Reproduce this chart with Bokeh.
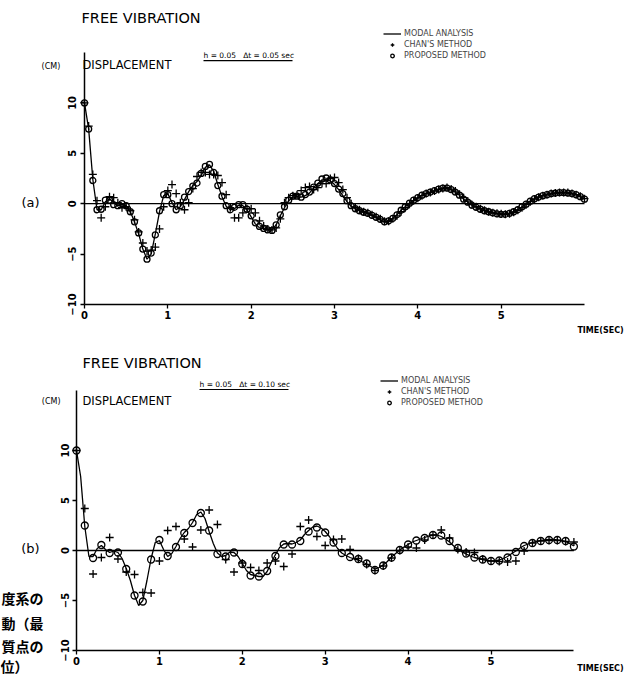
from bokeh.plotting import figure
from bokeh.layouts import column
from bokeh.models import Range1d, FixedTicker, Label, Legend, LegendItem
from bokeh.embed import file_html
from bokeh.resources import INLINE

# ---------------- data ----------------
DT_A = 0.05   # time step, panel (a)
DT_B = 0.10   # time step, panel (b)

x_ticks = [0, 1, 2, 3, 4, 5]
y_ticks = [-10, -5, 0, 5, 10]

# modal analysis (exact) displacement, cm, sampled every 0.05 s from 0 to 6 s
modal = [
    10.0, 7.4, 2.4, -0.6, -0.6, 0.2, 0.5, 0.1, -0.2, -0.05,
    -0.2, -0.8, -1.8, -3.0, -4.5, -5.5, -5.0, -3.0, -0.8, 0.8,
    1.0, 0.1, -0.6, -0.3, 0.4, 1.2, 1.8, 2.2, 2.8, 3.6,
    3.85, 3.2, 1.9, 0.7, -0.25, -0.6, -0.5, -0.15, -0.2, -0.6,
    -1.3, -2.0, -2.4, -2.5, -2.6, -2.6, -2.1, -1.2, -0.4, 0.3,
    0.65, 0.7, 0.65, 0.8, 1.05, 1.6, 2.0, 2.35, 2.45, 2.25,
    1.9, 1.4, 0.8, 0.2, -0.25, -0.5, -0.7, -0.85, -0.95, -1.15,
    -1.35, -1.6, -1.85, -1.7, -1.45, -1.1, -0.65, -0.3, 0.05, 0.35,
    0.6, 0.85, 1.0, 1.15, 1.3, 1.45, 1.55, 1.55, 1.4, 1.15,
    0.85, 0.45, 0.15, -0.15, -0.35, -0.55, -0.7, -0.8, -0.9, -1.0,
    -1.05, -1.05, -0.95, -0.8, -0.6, -0.3, -0.05, 0.25, 0.5, 0.65,
    0.8, 0.9, 1.0, 1.05, 1.1, 1.1, 1.05, 1.0, 0.9, 0.7,
    0.45,
]
DT_MODAL = 0.05

# panel (a): dt = 0.05 s
proposed_a = [
    10.0, 7.4, 2.3, -0.6, -0.55, 0.35, 0.35, -0.1, -0.2, 0.0,
    -0.2, -0.8, -1.8, -2.9, -4.5, -5.5, -4.9, -3.1, -0.7, 0.9,
    0.9, 0.0, -0.6, -0.2, 0.65, 1.2, 1.75, 2.05, 3.0, 3.7,
    3.9, 3.1, 1.8, 0.75, -0.2, -0.6, -0.35, -0.1, -0.1, -0.55,
    -1.2, -1.9, -2.25, -2.45, -2.6, -2.65, -2.1, -1.1, -0.3, 0.35,
    0.75, 0.75, 0.65, 0.9, 1.15, 1.65, 2.05, 2.45, 2.55, 2.35,
    2.0, 1.45, 1.0, 0.3, -0.2, -0.5, -0.7, -0.85, -0.95, -1.15,
    -1.35, -1.55, -1.8, -1.7, -1.45, -1.1, -0.65, -0.3, 0.05, 0.35,
    0.6, 0.85, 1.0, 1.15, 1.3, 1.45, 1.55, 1.55, 1.4, 1.15,
    0.85, 0.45, 0.15, -0.15, -0.35, -0.55, -0.7, -0.8, -0.9, -1.0,
    -1.05, -1.05, -0.95, -0.8, -0.6, -0.3, -0.05, 0.25, 0.5, 0.65,
    0.8, 0.9, 1.0, 1.05, 1.1, 1.1, 1.05, 1.0, 0.9, 0.7,
    0.45,
]
chan_a = [
    10.0, 7.7, 2.9, 0.3, -1.4, -0.3, 0.7, 0.6, 0.1, -0.4,
    -0.3, -0.7, -1.6, -2.8, -3.9, -4.7, -4.6, -4.3, -2.5, -0.3,
    1.3, 1.9, 1.0, 0.1, -0.6, 0.1, 1.5, 2.7, 3.1, 3.1,
    2.9, 2.9, 2.8, 2.1, 0.9, -0.4, -1.4, -1.4, -0.9, -0.5,
    -0.5, -0.9, -1.7, -2.2, -2.5, -2.6, -2.4, -1.5, 0.1, 0.6,
    0.8, 0.9, 1.3, 1.6, 1.7, 1.4, 1.6, 2.0, 2.0, 2.5,
    2.6, 2.1, 1.4, 0.6, 0.0, -0.4, -0.6, -0.8, -0.9, -1.1,
    -1.3, -1.5, -1.75, -1.75, -1.5, -1.2, -0.8, -0.4, -0.05, 0.3,
    0.55, 0.8, 1.0, 1.1, 1.25, 1.4, 1.5, 1.6, 1.45, 1.25,
    0.95, 0.6, 0.25, -0.1, -0.3, -0.5, -0.65, -0.8, -0.9, -0.95,
    -1.0, -1.05, -1.0, -0.85, -0.65, -0.4, -0.1, 0.2, 0.45, 0.65,
    0.8, 0.9, 1.0, 1.05, 1.1, 1.1, 1.1, 1.0, 0.9, 0.75,
    0.5,
]

# panel (b): dt = 0.10 s
proposed_b = [
    10.0, 2.5, -0.75, 0.55, -0.25, -0.2, -1.85, -4.5, -5.1, -0.9,
    1.05, -0.55, 0.35, 1.75, 2.75, 3.75, 2.0, -0.35, -0.6, -0.2,
    -1.35, -2.5, -2.6, -2.05, -0.55, 0.6, 0.6, 0.95, 1.9, 2.3,
    1.8, 0.8, -0.25, -0.65, -0.85, -1.3, -1.95, -1.5, -0.7, 0.05,
    0.6, 1.0, 1.25, 1.55, 1.5, 0.95, 0.25, -0.3, -0.7, -0.9,
    -1.05, -1.0, -0.7, -0.15, 0.45, 0.75, 0.95, 1.05, 1.05, 0.95,
    0.4,
]
chan_b = [
    10.0, 4.2, -2.35, -0.7, 1.3, -0.85, -2.15, -2.4, -4.2, -4.25,
    -1.05, 2.0, 2.4, 1.15, 0.35, 2.05, 4.05, 2.6, -0.9, -2.15,
    -1.25, -1.7, -2.0, -1.25, -1.05, -1.6, -0.35, 2.4, 3.05, 1.4,
    0.5, 1.1, 1.15, 0.1, -0.8, -1.4, -2.0, -1.55, -0.75, 0.0,
    0.35, 0.25, 1.05, 1.55, 2.05, 1.25, 0.1, -0.15, -0.2, -0.85,
    -1.05, -1.1, -1.15, -1.05, -0.05, 0.75, 0.95, 1.0, 1.0, 0.9,
    0.85,
]

SP = "\u00a0\u00a0\u00a0"
TITLE = "FREE VIBRATION"
YNAME = "DISPLACEMENT"
YUNIT = "(CM)"
XNAME = "TIME(SEC)"
PARAMS_A = "h = 0.05" + SP + "\u0394t = 0.05 sec"
PARAMS_B = "h = 0.05" + SP + "\u0394t = 0.10 sec"
LEG = ["MODAL ANALYSIS", "CHAN'S METHOD", "PROPOSED METHOD"]
CAPTION = ["度系の", "動（最", "質点の", "位）"]


def times(vals, dt):
    return [round(i * dt, 2) for i in range(len(vals))]


FONT = "DejaVu Sans"
W = 626


def panel(height, xr, yr, y_axis_top, t_prop, v_prop, t_chan, v_chan,
          prop_size, params, tag, leg_loc, geo):
    p = figure(width=W, height=height, x_range=Range1d(*xr),
               y_range=Range1d(*yr), output_backend="svg",
               toolbar_location=None, min_border=0,
               min_border_left=0, min_border_right=0,
               min_border_top=0, min_border_bottom=0)
    p.outline_line_color = None
    p.grid.visible = False
    p.background_fill_color = "white"
    p.xaxis.ticker = FixedTicker(ticks=x_ticks)
    p.yaxis.ticker = FixedTicker(ticks=y_ticks)
    p.yaxis.major_label_orientation = "vertical"
    p.xaxis.fixed_location = y_ticks[0]
    p.yaxis.fixed_location = 0
    p.xaxis.bounds = (0, 6)
    p.yaxis.bounds = (y_ticks[0], y_axis_top)
    for ax in (p.xaxis, p.yaxis):
        ax.axis_line_color = "black"
        ax.axis_line_width = 1.5
        ax.major_tick_line_color = "black"
        ax.major_tick_line_width = 1.3
        ax.major_tick_out = 4
        ax.major_tick_in = 0
        ax.minor_tick_line_color = None
        ax.major_label_text_font = FONT
        ax.major_label_text_font_size = "10px"
        ax.major_label_text_font_style = "bold"
        ax.major_label_text_color = "black"
    p.xaxis.major_label_standoff = 2
    p.yaxis.major_label_standoff = 4

    tm = times(modal, DT_MODAL)
    # zero reference line over the time span of the record
    p.line([tm[0], tm[-1]], [0, 0], line_color="black", line_width=1.3)

    r_line = p.line(tm, modal, line_color="black", line_width=1.3)
    r_chan = p.scatter(t_chan, v_chan, marker="cross", size=8,
                       line_color="black", line_width=1.3)
    r_prop = p.scatter(t_prop, v_prop, marker="circle", size=prop_size,
                       fill_color=None, line_color="black", line_width=1.3)

    legend = Legend(items=[LegendItem(label=LEG[0], renderers=[r_line]),
                           LegendItem(label=LEG[1], renderers=[r_chan]),
                           LegendItem(label=LEG[2], renderers=[r_prop])],
                    location=leg_loc, margin=0, padding=0, spacing=2,
                    glyph_width=18, glyph_height=9, label_height=9,
                    label_standoff=3, label_text_font=FONT,
                    label_text_font_size="8px", background_fill_alpha=0,
                    border_line_alpha=0)
    p.add_layout(legend)

    def lab(x, y, text, size, align="left", style="normal", font=FONT):
        p.add_layout(Label(x=x, y=y, text=text, text_font=font,
                           text_font_size=size, text_align=align,
                           text_baseline="middle", text_font_style=style,
                           text_color="black"))

    lab(geo["title"][0], geo["title"][1], TITLE, "14.5px")
    lab(geo["yname"][0], geo["yname"][1], YNAME, "11.5px")
    lab(geo["unit"][0], geo["unit"][1], YUNIT, "8px", align="right")
    lab(geo["params"][0], geo["params"][1], params, "7.5px")
    ux0, ux1, uy = geo["under"]
    p.segment(x0=[ux0], y0=[uy], x1=[ux1], y1=[uy], line_color="black",
              line_width=1.2)
    lab(geo["tag"][0], geo["tag"][1], tag, "13px", align="center")
    lab(geo["xname"][0], geo["xname"][1], XNAME, "8px", align="right", style="bold")
    return p


H1, H2 = 340, 335

geo_a = dict(title=(-0.036, 18.45), yname=(-0.024, 13.8), unit=(-0.29, 13.6),
             params=(1.428, 14.7), under=(1.428, 2.496, 14.2),
             tag=(-0.648, 0.1), xname=(6.47, -12.6))
pa = panel(H1, (-1.008, 6.504), (-13.571, 20.159), 15,
           times(proposed_a, DT_A), proposed_a, times(chan_a, DT_A), chan_a,
           6, PARAMS_A, "(a)", (383, 280), geo_a)

geo_b = dict(title=(0.072, 18.8), yname=(0.072, 15.0), unit=(-0.193, 14.9),
             params=(1.484, 16.6), under=(1.484, 2.557, 16.1),
             tag=(-0.555, 0.2), xname=(6.6, -11.8))
pb = panel(H2, (-0.9168, 6.6345), (-12.5, 21.0), 16,
           times(proposed_b, DT_B), proposed_b, times(chan_b, DT_B), chan_b,
           7, PARAMS_B, "(b)", (380, 268), geo_b)

cap = [(-0.398, -4.7), (-0.398, -7.2), (-0.398, -9.5), (-0.579, -11.5)]
for txt, (xx, yy) in zip(CAPTION, cap):
    pb.add_layout(Label(x=xx, y=yy, text=txt, text_font="Noto Sans CJK JP",
                        text_font_size="14px", text_font_style="bold",
                        text_align="right", text_baseline="middle",
                        text_color="black"))

layout = column(pa, pb, spacing=0)
open("out.html", "w").write(file_html(layout, INLINE))
